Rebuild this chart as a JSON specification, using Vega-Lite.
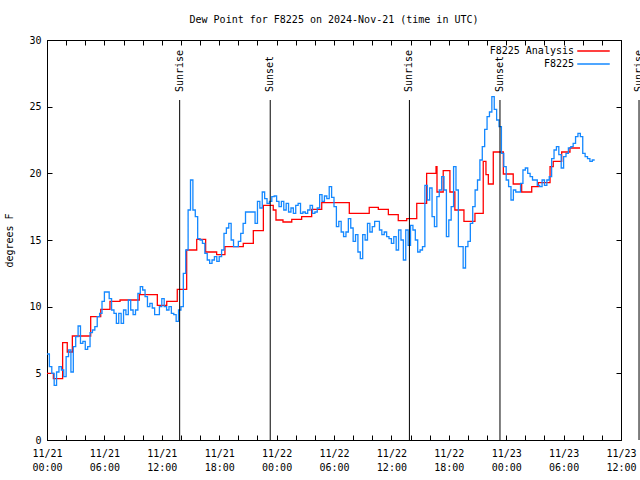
{
  "$schema": "https://vega.github.io/schema/vega-lite/v6.json",
  "width": 574,
  "height": 400,
  "autosize": "none",
  "padding": {"left": 47, "top": 40, "right": 19, "bottom": 40},
  "background": "white",
  "title": {"text": "Dew Point for F8225 on 2024-Nov-21 (time in UTC)", "font": "DejaVu Sans Mono", "fontSize": 10, "fontWeight": "normal", "color": "black", "offset": 10, "anchor": "middle"},
  "config": {
    "view": {"stroke": "black", "strokeWidth": 1},
    "font": "DejaVu Sans Mono",
    "axis": {"grid": false, "domainColor": "black", "tickColor": "black", "labelColor": "black", "titleColor": "black", "labelFont": "DejaVu Sans Mono", "titleFont": "DejaVu Sans Mono", "labelFontSize": 10, "titleFontSize": 10, "titleFontWeight": "normal"},
    "legend": {"labelFont": "DejaVu Sans Mono", "labelFontSize": 10, "labelColor": "black"}
  },
  "datasets": {
    "obs": [
      {"t":"2024-11-21T00:00Z","v":6.45},{"t":"2024-11-21T00:15Z","v":5.5},{"t":"2024-11-21T00:30Z","v":5.0},{"t":"2024-11-21T00:45Z","v":4.1},
      {"t":"2024-11-21T01:00Z","v":5.1},{"t":"2024-11-21T01:15Z","v":5.5},{"t":"2024-11-21T01:30Z","v":5.25},{"t":"2024-11-21T01:45Z","v":4.75},
      {"t":"2024-11-21T02:00Z","v":6.25},{"t":"2024-11-21T02:15Z","v":6.75},{"t":"2024-11-21T02:30Z","v":5.1},{"t":"2024-11-21T02:45Z","v":7.0},
      {"t":"2024-11-21T03:00Z","v":7.75},{"t":"2024-11-21T03:15Z","v":8.55},{"t":"2024-11-21T03:30Z","v":7.25},{"t":"2024-11-21T03:45Z","v":7.4},
      {"t":"2024-11-21T04:00Z","v":6.8},{"t":"2024-11-21T04:15Z","v":7.0},{"t":"2024-11-21T04:30Z","v":8.05},{"t":"2024-11-21T04:45Z","v":8.25},
      {"t":"2024-11-21T05:00Z","v":8.5},{"t":"2024-11-21T05:15Z","v":9.25},{"t":"2024-11-21T05:30Z","v":9.5},{"t":"2024-11-21T05:45Z","v":10.4},
      {"t":"2024-11-21T06:00Z","v":11.1},{"t":"2024-11-21T06:15Z","v":11.1},{"t":"2024-11-21T06:30Z","v":10.6},{"t":"2024-11-21T06:45Z","v":9.75},
      {"t":"2024-11-21T07:00Z","v":9.5},{"t":"2024-11-21T07:15Z","v":8.75},{"t":"2024-11-21T07:30Z","v":9.5},{"t":"2024-11-21T07:45Z","v":8.75},
      {"t":"2024-11-21T08:00Z","v":9.75},{"t":"2024-11-21T08:15Z","v":9.4},{"t":"2024-11-21T08:30Z","v":10.5},{"t":"2024-11-21T08:45Z","v":9.75},
      {"t":"2024-11-21T09:00Z","v":9.4},{"t":"2024-11-21T09:15Z","v":9.75},{"t":"2024-11-21T09:30Z","v":11.0},{"t":"2024-11-21T09:45Z","v":11.5},
      {"t":"2024-11-21T10:00Z","v":11.25},{"t":"2024-11-21T10:15Z","v":10.75},{"t":"2024-11-21T10:30Z","v":10.0},{"t":"2024-11-21T10:45Z","v":10.25},
      {"t":"2024-11-21T11:00Z","v":9.9},{"t":"2024-11-21T11:15Z","v":9.4},{"t":"2024-11-21T11:30Z","v":9.4},{"t":"2024-11-21T11:45Z","v":10.0},
      {"t":"2024-11-21T12:00Z","v":10.6},{"t":"2024-11-21T12:15Z","v":10.0},{"t":"2024-11-21T12:30Z","v":9.75},{"t":"2024-11-21T12:45Z","v":10.0},
      {"t":"2024-11-21T13:00Z","v":9.5},{"t":"2024-11-21T13:15Z","v":9.4},{"t":"2024-11-21T13:30Z","v":8.9},{"t":"2024-11-21T13:45Z","v":9.75},
      {"t":"2024-11-21T14:00Z","v":10.0},{"t":"2024-11-21T14:15Z","v":12.5},{"t":"2024-11-21T14:30Z","v":14.25},{"t":"2024-11-21T14:45Z","v":17.25},
      {"t":"2024-11-21T15:00Z","v":19.5},{"t":"2024-11-21T15:15Z","v":17.25},{"t":"2024-11-21T15:30Z","v":16.75},{"t":"2024-11-21T15:45Z","v":15.1},
      {"t":"2024-11-21T16:00Z","v":15.0},{"t":"2024-11-21T16:15Z","v":14.75},{"t":"2024-11-21T16:30Z","v":14.0},{"t":"2024-11-21T16:45Z","v":13.5},
      {"t":"2024-11-21T17:00Z","v":13.25},{"t":"2024-11-21T17:15Z","v":13.5},{"t":"2024-11-21T17:30Z","v":13.75},{"t":"2024-11-21T17:45Z","v":13.4},
      {"t":"2024-11-21T18:00Z","v":13.75},{"t":"2024-11-21T18:15Z","v":14.25},{"t":"2024-11-21T18:30Z","v":15.5},{"t":"2024-11-21T18:45Z","v":15.9},
      {"t":"2024-11-21T19:00Z","v":16.25},{"t":"2024-11-21T19:15Z","v":15.0},{"t":"2024-11-21T19:30Z","v":14.5},{"t":"2024-11-21T19:45Z","v":14.5},
      {"t":"2024-11-21T20:00Z","v":14.9},{"t":"2024-11-21T20:15Z","v":15.5},{"t":"2024-11-21T20:30Z","v":16.25},{"t":"2024-11-21T20:45Z","v":17.1},
      {"t":"2024-11-21T21:00Z","v":17.1},{"t":"2024-11-21T21:15Z","v":17.1},{"t":"2024-11-21T21:30Z","v":17.1},{"t":"2024-11-21T21:45Z","v":16.25},
      {"t":"2024-11-21T22:00Z","v":17.9},{"t":"2024-11-21T22:15Z","v":17.4},{"t":"2024-11-21T22:30Z","v":18.6},{"t":"2024-11-21T22:45Z","v":18.1},
      {"t":"2024-11-21T23:00Z","v":17.75},{"t":"2024-11-21T23:15Z","v":17.9},{"t":"2024-11-21T23:30Z","v":18.25},{"t":"2024-11-21T23:45Z","v":18.3},
      {"t":"2024-11-22T00:00Z","v":17.9},{"t":"2024-11-22T00:15Z","v":17.5},{"t":"2024-11-22T00:30Z","v":17.9},{"t":"2024-11-22T00:45Z","v":17.25},
      {"t":"2024-11-22T01:00Z","v":17.75},{"t":"2024-11-22T01:15Z","v":17.1},{"t":"2024-11-22T01:30Z","v":17.4},{"t":"2024-11-22T01:45Z","v":17.0},
      {"t":"2024-11-22T02:00Z","v":17.6},{"t":"2024-11-22T02:15Z","v":17.75},{"t":"2024-11-22T02:30Z","v":17.0},{"t":"2024-11-22T02:45Z","v":17.1},
      {"t":"2024-11-22T03:00Z","v":17.0},{"t":"2024-11-22T03:15Z","v":17.25},{"t":"2024-11-22T03:30Z","v":17.6},{"t":"2024-11-22T03:45Z","v":17.0},
      {"t":"2024-11-22T04:00Z","v":17.1},{"t":"2024-11-22T04:15Z","v":17.4},{"t":"2024-11-22T04:30Z","v":18.4},{"t":"2024-11-22T04:45Z","v":17.9},
      {"t":"2024-11-22T05:00Z","v":18.3},{"t":"2024-11-22T05:15Z","v":18.1},{"t":"2024-11-22T05:30Z","v":19.0},{"t":"2024-11-22T05:45Z","v":18.2},
      {"t":"2024-11-22T06:00Z","v":17.5},{"t":"2024-11-22T06:15Z","v":16.0},{"t":"2024-11-22T06:30Z","v":16.4},{"t":"2024-11-22T06:45Z","v":15.6},
      {"t":"2024-11-22T07:00Z","v":15.25},{"t":"2024-11-22T07:15Z","v":15.6},{"t":"2024-11-22T07:30Z","v":16.6},{"t":"2024-11-22T07:45Z","v":15.9},
      {"t":"2024-11-22T08:00Z","v":14.9},{"t":"2024-11-22T08:15Z","v":15.4},{"t":"2024-11-22T08:30Z","v":14.1},{"t":"2024-11-22T08:45Z","v":13.6},
      {"t":"2024-11-22T09:00Z","v":15.4},{"t":"2024-11-22T09:15Z","v":15.0},{"t":"2024-11-22T09:30Z","v":16.25},{"t":"2024-11-22T09:45Z","v":15.6},
      {"t":"2024-11-22T10:00Z","v":16.0},{"t":"2024-11-22T10:15Z","v":16.4},{"t":"2024-11-22T10:30Z","v":16.4},{"t":"2024-11-22T10:45Z","v":15.75},
      {"t":"2024-11-22T11:00Z","v":15.4},{"t":"2024-11-22T11:15Z","v":15.6},{"t":"2024-11-22T11:30Z","v":15.25},{"t":"2024-11-22T11:45Z","v":15.1},
      {"t":"2024-11-22T12:00Z","v":14.75},{"t":"2024-11-22T12:15Z","v":15.25},{"t":"2024-11-22T12:30Z","v":14.25},{"t":"2024-11-22T12:45Z","v":15.75},
      {"t":"2024-11-22T13:00Z","v":15.0},{"t":"2024-11-22T13:15Z","v":13.5},{"t":"2024-11-22T13:30Z","v":15.75},{"t":"2024-11-22T13:45Z","v":14.6},
      {"t":"2024-11-22T14:00Z","v":16.1},{"t":"2024-11-22T14:15Z","v":15.75},{"t":"2024-11-22T14:30Z","v":15.0},{"t":"2024-11-22T14:45Z","v":14.1},
      {"t":"2024-11-22T15:00Z","v":14.25},{"t":"2024-11-22T15:15Z","v":14.5},{"t":"2024-11-22T15:30Z","v":19.1},{"t":"2024-11-22T15:45Z","v":18.0},
      {"t":"2024-11-22T16:00Z","v":18.9},{"t":"2024-11-22T16:15Z","v":16.75},{"t":"2024-11-22T16:30Z","v":16.0},{"t":"2024-11-22T16:45Z","v":18.25},
      {"t":"2024-11-22T17:00Z","v":18.75},{"t":"2024-11-22T17:15Z","v":19.75},{"t":"2024-11-22T17:30Z","v":18.75},{"t":"2024-11-22T17:45Z","v":15.25},
      {"t":"2024-11-22T18:00Z","v":16.5},{"t":"2024-11-22T18:15Z","v":17.5},{"t":"2024-11-22T18:30Z","v":20.5},{"t":"2024-11-22T18:45Z","v":18.75},
      {"t":"2024-11-22T19:00Z","v":14.5},{"t":"2024-11-22T19:15Z","v":14.5},{"t":"2024-11-22T19:30Z","v":12.9},{"t":"2024-11-22T19:45Z","v":14.5},
      {"t":"2024-11-22T20:00Z","v":14.9},{"t":"2024-11-22T20:15Z","v":16.25},{"t":"2024-11-22T20:30Z","v":17.5},{"t":"2024-11-22T20:45Z","v":18.75},
      {"t":"2024-11-22T21:00Z","v":19.5},{"t":"2024-11-22T21:15Z","v":21.0},{"t":"2024-11-22T21:30Z","v":22.0},{"t":"2024-11-22T21:45Z","v":23.3},
      {"t":"2024-11-22T22:00Z","v":24.25},{"t":"2024-11-22T22:15Z","v":24.6},{"t":"2024-11-22T22:30Z","v":25.75},{"t":"2024-11-22T22:45Z","v":24.8},
      {"t":"2024-11-22T23:00Z","v":24.0},{"t":"2024-11-22T23:15Z","v":23.5},{"t":"2024-11-22T23:30Z","v":21.5},{"t":"2024-11-22T23:45Z","v":20.5},
      {"t":"2024-11-23T00:00Z","v":19.5},{"t":"2024-11-23T00:15Z","v":19.0},{"t":"2024-11-23T00:30Z","v":18.0},{"t":"2024-11-23T00:45Z","v":18.75},
      {"t":"2024-11-23T01:00Z","v":18.6},{"t":"2024-11-23T01:15Z","v":18.6},{"t":"2024-11-23T01:30Z","v":19.25},{"t":"2024-11-23T01:45Z","v":20.25},
      {"t":"2024-11-23T02:00Z","v":20.4},{"t":"2024-11-23T02:15Z","v":20.0},{"t":"2024-11-23T02:30Z","v":19.75},{"t":"2024-11-23T02:45Z","v":19.5},
      {"t":"2024-11-23T03:00Z","v":19.5},{"t":"2024-11-23T03:15Z","v":19.1},{"t":"2024-11-23T03:30Z","v":19.0},{"t":"2024-11-23T03:45Z","v":19.5},
      {"t":"2024-11-23T04:00Z","v":19.1},{"t":"2024-11-23T04:15Z","v":19.5},{"t":"2024-11-23T04:30Z","v":19.75},{"t":"2024-11-23T04:45Z","v":21.1},
      {"t":"2024-11-23T05:00Z","v":21.75},{"t":"2024-11-23T05:15Z","v":22.0},{"t":"2024-11-23T05:30Z","v":21.4},{"t":"2024-11-23T05:45Z","v":20.4},
      {"t":"2024-11-23T06:00Z","v":21.25},{"t":"2024-11-23T06:15Z","v":21.5},{"t":"2024-11-23T06:30Z","v":21.9},{"t":"2024-11-23T06:45Z","v":22.0},
      {"t":"2024-11-23T07:00Z","v":22.25},{"t":"2024-11-23T07:15Z","v":22.75},{"t":"2024-11-23T07:30Z","v":23.0},{"t":"2024-11-23T07:45Z","v":22.75},
      {"t":"2024-11-23T08:00Z","v":21.5},{"t":"2024-11-23T08:15Z","v":21.25},{"t":"2024-11-23T08:30Z","v":21.1},{"t":"2024-11-23T08:45Z","v":20.9},
      {"t":"2024-11-23T09:00Z","v":21.0},{"t":"2024-11-23T09:15Z","v":21.0}
    ],
    "analysis": [
      {"t":"2024-11-21T00:00Z","v":5.0},{"t":"2024-11-21T00:40Z","v":4.6},{"t":"2024-11-21T01:38Z","v":7.3},{"t":"2024-11-21T02:07Z","v":6.6},
      {"t":"2024-11-21T02:39Z","v":7.8},{"t":"2024-11-21T04:34Z","v":9.25},{"t":"2024-11-21T05:37Z","v":9.8},{"t":"2024-11-21T06:35Z","v":10.4},
      {"t":"2024-11-21T07:38Z","v":10.5},{"t":"2024-11-21T09:39Z","v":10.9},{"t":"2024-11-21T11:32Z","v":10.1},{"t":"2024-11-21T12:31Z","v":10.4},
      {"t":"2024-11-21T13:37Z","v":11.3},{"t":"2024-11-21T14:36Z","v":14.25},{"t":"2024-11-21T15:39Z","v":15.05},{"t":"2024-11-21T16:35Z","v":14.1},
      {"t":"2024-11-21T17:44Z","v":13.9},{"t":"2024-11-21T18:36Z","v":14.5},{"t":"2024-11-21T20:31Z","v":14.75},{"t":"2024-11-21T21:34Z","v":15.7},
      {"t":"2024-11-21T22:37Z","v":17.6},{"t":"2024-11-21T23:39Z","v":17.25},{"t":"2024-11-21T23:56Z","v":16.5},{"t":"2024-11-22T00:40Z","v":16.35},
      {"t":"2024-11-22T01:35Z","v":16.55},{"t":"2024-11-22T02:37Z","v":16.75},{"t":"2024-11-22T03:40Z","v":17.3},{"t":"2024-11-22T04:43Z","v":17.8},
      {"t":"2024-11-22T07:36Z","v":17.0},{"t":"2024-11-22T09:41Z","v":17.45},{"t":"2024-11-22T10:38Z","v":17.3},{"t":"2024-11-22T11:41Z","v":16.9},
      {"t":"2024-11-22T12:43Z","v":16.45},{"t":"2024-11-22T13:36Z","v":16.6},{"t":"2024-11-22T14:39Z","v":17.75},{"t":"2024-11-22T15:41Z","v":20.0},
      {"t":"2024-11-22T16:40Z","v":20.5},{"t":"2024-11-22T16:46Z","v":18.6},{"t":"2024-11-22T17:25Z","v":20.2},{"t":"2024-11-22T18:07Z","v":18.6},
      {"t":"2024-11-22T18:38Z","v":17.25},{"t":"2024-11-22T19:35Z","v":16.4},{"t":"2024-11-22T20:44Z","v":17.0},{"t":"2024-11-22T21:36Z","v":20.9},
      {"t":"2024-11-22T21:53Z","v":19.9},{"t":"2024-11-22T22:08Z","v":19.2},{"t":"2024-11-22T22:39Z","v":21.6},{"t":"2024-11-22T23:42Z","v":19.95},
      {"t":"2024-11-23T00:44Z","v":19.2},{"t":"2024-11-23T01:37Z","v":18.6},{"t":"2024-11-23T02:40Z","v":19.0},{"t":"2024-11-23T03:21Z","v":19.3},
      {"t":"2024-11-23T04:35Z","v":20.5},{"t":"2024-11-23T04:55Z","v":20.9},{"t":"2024-11-23T05:48Z","v":21.6},{"t":"2024-11-23T06:40Z","v":21.9},
      {"t":"2024-11-23T07:43Z","v":21.9}
    ],
    "sun": [
      {"t":"2024-11-21T13:52Z","label":"Sunrise"},
      {"t":"2024-11-21T23:20Z","label":"Sunset"},
      {"t":"2024-11-22T13:53Z","label":"Sunrise"},
      {"t":"2024-11-22T23:21Z","label":"Sunset"},
      {"t":"2024-11-23T13:53Z","label":"Sunrise"}
    ]
  },
  "layer": [
    {
      "data": {"name": "analysis"},
      "mark": {"type": "line", "interpolate": "step-after", "strokeWidth": 1.3},
      "encoding": {
        "x": {"field": "t", "type": "temporal",
          "scale": {"type": "utc", "domain": [1732147200000, 1732363200000]},
          "axis": {"orient": "bottom", "title": null, "tickSize": -5, "labelPadding": 18, "labelLineHeight": 14, "labelBaseline": "middle",
            "values": [1732147200000,1732154400000,1732161600000,1732168800000,1732176000000,1732183200000,1732190400000,1732197600000,1732204800000,1732212000000,1732219200000,1732226400000,1732233600000,1732240800000,1732248000000,1732255200000,1732262400000,1732269600000,1732276800000,1732284000000,1732291200000,1732298400000,1732305600000,1732312800000,1732320000000,1732327200000,1732334400000,1732341600000,1732348800000,1732356000000,1732363200000],
            "labelExpr": "utchours(datum.value) % 6 == 0 ? [utcFormat(datum.value, '%m/%d'), utcFormat(datum.value, '%H:%M')] : ''",
            "labelOverlap": false, "labelFlush": false}},
        "y": {"field": "v", "type": "quantitative",
          "scale": {"domain": [0, 30], "nice": false, "zero": false},
          "axis": {"orient": "left", "title": "degrees F", "tickSize": -5, "labelPadding": 11, "titlePadding": 14, "values": [0,5,10,15,20,25,30]}},
        "color": {"datum": "F8225 Analysis", "type": "nominal",
          "scale": {"domain": ["F8225 Analysis", "F8225"], "range": ["#ff0000", "#1488ff"]},
          "legend": {"title": null, "orient": "none", "legendX": 539, "legendY": 3.5, "symbolType": "M-2.5,0H2.5", "symbolSize": 169, "symbolStrokeWidth": 1.5, "symbolFillColor": "transparent", "labelAlign": "right", "labelOffset": -27, "rowPadding": 0}}
      }
    },
    {
      "data": {"name": "obs"},
      "mark": {"type": "line", "interpolate": "step-after", "strokeWidth": 1.3},
      "encoding": {
        "x": {"field": "t", "type": "temporal", "axis": null},
        "y": {"field": "v", "type": "quantitative", "axis": null},
        "color": {"datum": "F8225", "type": "nominal"}
      }
    },
    {
      "data": {"name": "sun"},
      "mark": {"type": "rule", "color": "black", "strokeWidth": 1},
      "encoding": {
        "x": {"field": "t", "type": "temporal",
          "axis": {"orient": "top", "title": null, "labels": false, "tickSize": -5,
            "values": [1732147200000,1732154400000,1732161600000,1732168800000,1732176000000,1732183200000,1732190400000,1732197600000,1732204800000,1732212000000,1732219200000,1732226400000,1732233600000,1732240800000,1732248000000,1732255200000,1732262400000,1732269600000,1732276800000,1732284000000,1732291200000,1732298400000,1732305600000,1732312800000,1732320000000,1732327200000,1732334400000,1732341600000,1732348800000,1732356000000,1732363200000]}},
        "y": {"datum": 0, "type": "quantitative",
          "axis": {"orient": "right", "title": null, "labels": false, "tickSize": -5, "values": [0,5,10,15,20,25,30]}},
        "y2": {"datum": 25.5}
      }
    },
    {
      "data": {"name": "sun"},
      "mark": {"type": "text", "angle": 270, "align": "left", "baseline": "middle", "font": "DejaVu Sans Mono", "fontSize": 10, "color": "black"},
      "encoding": {
        "x": {"field": "t", "type": "temporal", "axis": null},
        "y": {"datum": 26.1, "type": "quantitative", "axis": null},
        "text": {"field": "label"}
      }
    }
  ],
  "resolve": {"axis": {"x": "independent", "y": "independent"}}
}
